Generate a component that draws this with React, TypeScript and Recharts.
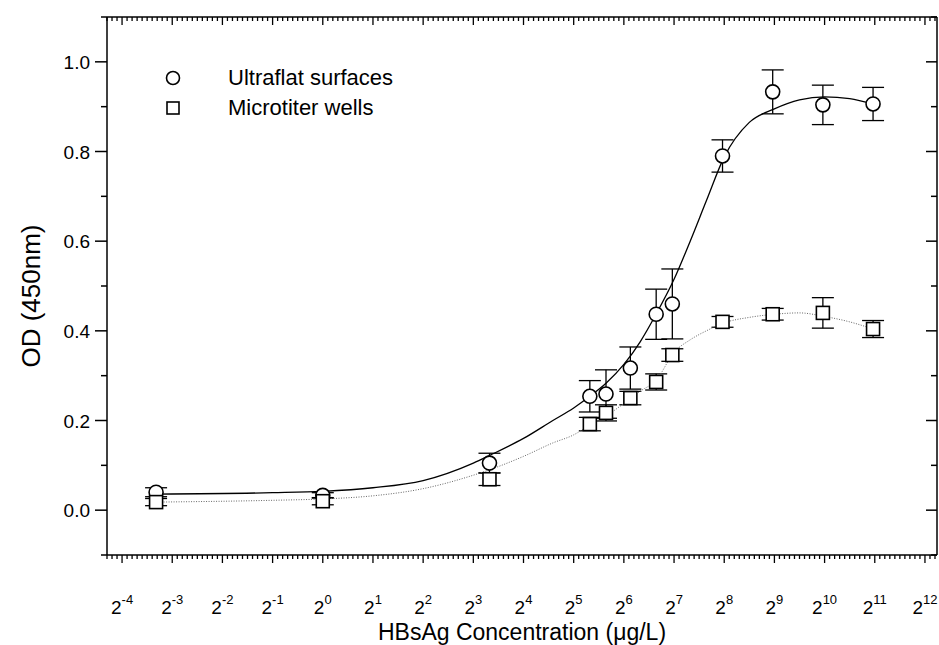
import React from 'react';
import {
  ComposedChart,
  Scatter,
  Line,
  XAxis,
  YAxis,
  ErrorBar,
  Label,
} from 'recharts';

// HBsAg concentration (µg/L) for the measured points
const concentrations = [0.1, 1, 10, 40, 50, 70, 100, 125, 250, 500, 1000, 2000];
const ultraflatOD = [0.04, 0.033, 0.105, 0.254, 0.259, 0.317, 0.437, 0.46, 0.79, 0.933, 0.904, 0.906];
const ultraflatErr = [0.01, 0.006, 0.022, 0.035, 0.054, 0.047, 0.056, 0.078, 0.036, 0.049, 0.044, 0.037];
const microtiterOD = [0.018, 0.02, 0.069, 0.192, 0.217, 0.25, 0.286, 0.346, 0.42, 0.437, 0.44, 0.404];
const microtiterErr = [0.008, 0.008, 0.014, 0.015, 0.018, 0.015, 0.018, 0.014, 0.012, 0.013, 0.034, 0.019];

// fitted curves
const fitConc = [0.1, 0.5, 1, 2, 4, 8, 10, 16, 24, 32, 40, 50, 64, 80, 100, 128, 160, 200, 256, 362, 512, 724, 1024, 1448, 2000];
const ultraflatFit = [0.036, 0.039, 0.042, 0.05, 0.066, 0.105, 0.122, 0.16, 0.2, 0.228, 0.254, 0.283, 0.325, 0.375, 0.4375, 0.515, 0.6, 0.69, 0.788, 0.865, 0.895, 0.915, 0.922, 0.918, 0.906];
const microtiterFit = [0.018, 0.022, 0.025, 0.032, 0.048, 0.078, 0.09, 0.12, 0.15, 0.168, 0.19, 0.21, 0.238, 0.265, 0.29, 0.352, 0.38, 0.4, 0.418, 0.43, 0.437, 0.44, 0.432, 0.42, 0.404];

// axis ticks
const xExponents = [-4, -3, -2, -1, 0, 1, 2, 3, 4, 5, 6, 7, 8, 9, 10, 11, 12];
const yMajorTicks = [0, 0.2, 0.4, 0.6, 0.8, 1.0];
const yMinorTicks = [-0.1, 0.1, 0.3, 0.5, 0.7, 0.9, 1.1];

const X_MIN_EXP = -4.3;
const X_MAX_EXP = 12.24;
const xDomain = [Math.pow(2, X_MIN_EXP), Math.pow(2, X_MAX_EXP)];

const xTicks: number[] = [];
for (let e = X_MIN_EXP; e <= X_MAX_EXP + 1e-9; e += 0.1) {
  xTicks.push(Math.pow(2, Math.round(e * 10) / 10));
}
const yTicks = [...yMajorTicks, ...yMinorTicks].sort((a, b) => a - b);

const ultraflatData = concentrations.map((c, i) => ({ conc: c, od: ultraflatOD[i], err: ultraflatErr[i] }));
const microtiterData = concentrations.map((c, i) => ({ conc: c, od: microtiterOD[i], err: microtiterErr[i] }));
const ultraflatFitData = fitConc.map((c, i) => ({ conc: c, fit: ultraflatFit[i] }));
const microtiterFitData = fitConc.map((c, i) => ({ conc: c, fit: microtiterFit[i] }));

const FONT = '"Liberation Sans", Arial, sans-serif';

const isMajorX = (v: number) => {
  const e = Math.log2(v);
  return Math.abs(e - Math.round(e)) < 1e-6;
};
const isMajorY = (v: number) => yMajorTicks.some(t => Math.abs(t - v) < 1e-6);

const BottomTick = (props: any) => {
  const { x, y, payload } = props;
  const major = isMajorX(payload.value);
  const e = Math.round(Math.log2(payload.value));
  return (
    <g>
      <line x1={x} x2={x} y1={y} y2={y + (major ? 8 : 4)} stroke="#000" strokeWidth={1.3} />
      {major && xExponents.includes(e) && (
        <text x={x} y={y + 59} textAnchor="middle" fontFamily={FONT} fill="#000">
          <tspan fontSize={19}>2</tspan>
          <tspan fontSize={13} dy={-10}>{e}</tspan>
        </text>
      )}
    </g>
  );
};

const TopTick = (props: any) => {
  const { x, y, payload } = props;
  const major = isMajorX(payload.value);
  return <line x1={x} x2={x} y1={y} y2={y + (major ? 8 : 4)} stroke="#000" strokeWidth={1.3} />;
};

const LeftTick = (props: any) => {
  const { x, y, payload } = props;
  const major = isMajorY(payload.value);
  return (
    <g>
      <line x1={x - (major ? 12 : 6)} x2={x} y1={y} y2={y} stroke="#000" strokeWidth={1.5} />
      {major && (
        <text x={x - 17} y={y + 7} textAnchor="end" fontSize={19} fontFamily={FONT} fill="#000">
          {payload.value.toFixed(1)}
        </text>
      )}
    </g>
  );
};

const RightTick = (props: any) => {
  const { x, y, payload } = props;
  const major = isMajorY(payload.value);
  return <line x1={x - (major ? 11 : 6)} x2={x} y1={y} y2={y} stroke="#000" strokeWidth={1.5} />;
};

const CircleMark = (props: any) => (
  <circle cx={props.cx} cy={props.cy} r={7} fill="#fff" stroke="#000" strokeWidth={1.6} />
);
const SquareMark = (props: any) => (
  <rect x={props.cx - 6.5} y={props.cy - 6.5} width={13} height={13} fill="#fff" stroke="#000" strokeWidth={1.6} />
);

const LegendBox = () => (
  <div
    style={{
      position: 'absolute',
      left: 160,
      top: 63,
      fontFamily: FONT,
      fontSize: 22,
      color: '#000',
      lineHeight: '30px',
    }}
  >
    <div style={{ display: 'flex', alignItems: 'center' }}>
      <svg width={68} height={30}>
        <circle cx={13} cy={15} r={6.5} fill="#fff" stroke="#000" strokeWidth={1.6} />
      </svg>
      <span>Ultraflat surfaces</span>
    </div>
    <div style={{ display: 'flex', alignItems: 'center' }}>
      <svg width={68} height={30}>
        <rect x={7} y={9} width={12} height={12} fill="#fff" stroke="#000" strokeWidth={1.6} />
      </svg>
      <span>Microtiter wells</span>
    </div>
  </div>
);

export default function App() {
  return (
    <div style={{ position: 'absolute', left: 0, top: 0, width: 939, height: 645, background: '#fff' }}>
      <ComposedChart width={939} height={645} margin={{ top: 16, right: 1, bottom: 0, left: 0 }}>
        <XAxis
          dataKey="conc"
          type="number"
          scale="log"
          domain={xDomain}
          allowDataOverflow
          ticks={xTicks}
          interval={0}
          tick={BottomTick}
          tickLine={false}
          tickSize={0}
          tickMargin={0}
          height={90}
          axisLine={{ stroke: '#000', strokeWidth: 1.5 }}
        >
          <Label
            content={(p: any) => (
              <text
                x={p.viewBox.x + p.viewBox.width / 2}
                y={640}
                textAnchor="middle"
                fontSize={23}
                fontFamily={FONT}
                fill="#000"
              >
                HBsAg Concentration (μg/L)
              </text>
            )}
          />
        </XAxis>
        <XAxis
          xAxisId="top"
          orientation="top"
          dataKey="conc"
          type="number"
          scale="log"
          domain={xDomain}
          allowDataOverflow
          ticks={xTicks}
          interval={0}
          tick={TopTick}
          tickLine={false}
          tickSize={0}
          tickMargin={0}
          height={1}
          axisLine={{ stroke: '#000', strokeWidth: 1.5 }}
        />
        <YAxis
          type="number"
          domain={[-0.1, 1.1]}
          allowDataOverflow
          ticks={yTicks}
          interval={0}
          tick={LeftTick}
          tickLine={false}
          tickSize={0}
          tickMargin={0}
          width={107}
          axisLine={{ stroke: '#000', strokeWidth: 1.5 }}
        >
          <Label
            content={(p: any) => (
              <text
                x={0}
                y={0}
                transform={`translate(40, ${p.viewBox.y + p.viewBox.height / 2 + 10}) rotate(-90)`}
                textAnchor="middle"
                fontSize={26}
                fontFamily={FONT}
                fill="#000"
              >
                OD (450nm)
              </text>
            )}
          />
        </YAxis>
        <YAxis
          yAxisId="right"
          orientation="right"
          type="number"
          domain={[-0.1, 1.1]}
          allowDataOverflow
          ticks={yTicks}
          interval={0}
          tick={RightTick}
          tickLine={false}
          tickSize={0}
          tickMargin={0}
          width={1}
          axisLine={{ stroke: '#000', strokeWidth: 1.5 }}
        />
        <Scatter
          name="Ultraflat surfaces"
          data={ultraflatData}
          dataKey="od"
          shape={CircleMark}
          isAnimationActive={false}
        >
          <ErrorBar dataKey="err" direction="y" width={11} stroke="#000" strokeWidth={1.3} />
        </Scatter>
        <Scatter
          name="Microtiter wells"
          data={microtiterData}
          dataKey="od"
          shape={SquareMark}
          isAnimationActive={false}
        >
          <ErrorBar dataKey="err" direction="y" width={11} stroke="#000" strokeWidth={1.3} />
        </Scatter>
        <Line
          data={ultraflatFitData}
          dataKey="fit"
          type="monotone"
          stroke="#000"
          strokeWidth={1.3}
          dot={false}
          isAnimationActive={false}
        />
        {/* same domains as the main axes, so this also keeps the mirrored frame axes drawn */}
        <Line
          xAxisId="top"
          yAxisId="right"
          data={microtiterFitData}
          dataKey="fit"
          type="monotone"
          stroke="#666"
          strokeWidth={1}
          strokeDasharray="1 1.5"
          dot={false}
          isAnimationActive={false}
        />
      </ComposedChart>
      <LegendBox />
    </div>
  );
}
